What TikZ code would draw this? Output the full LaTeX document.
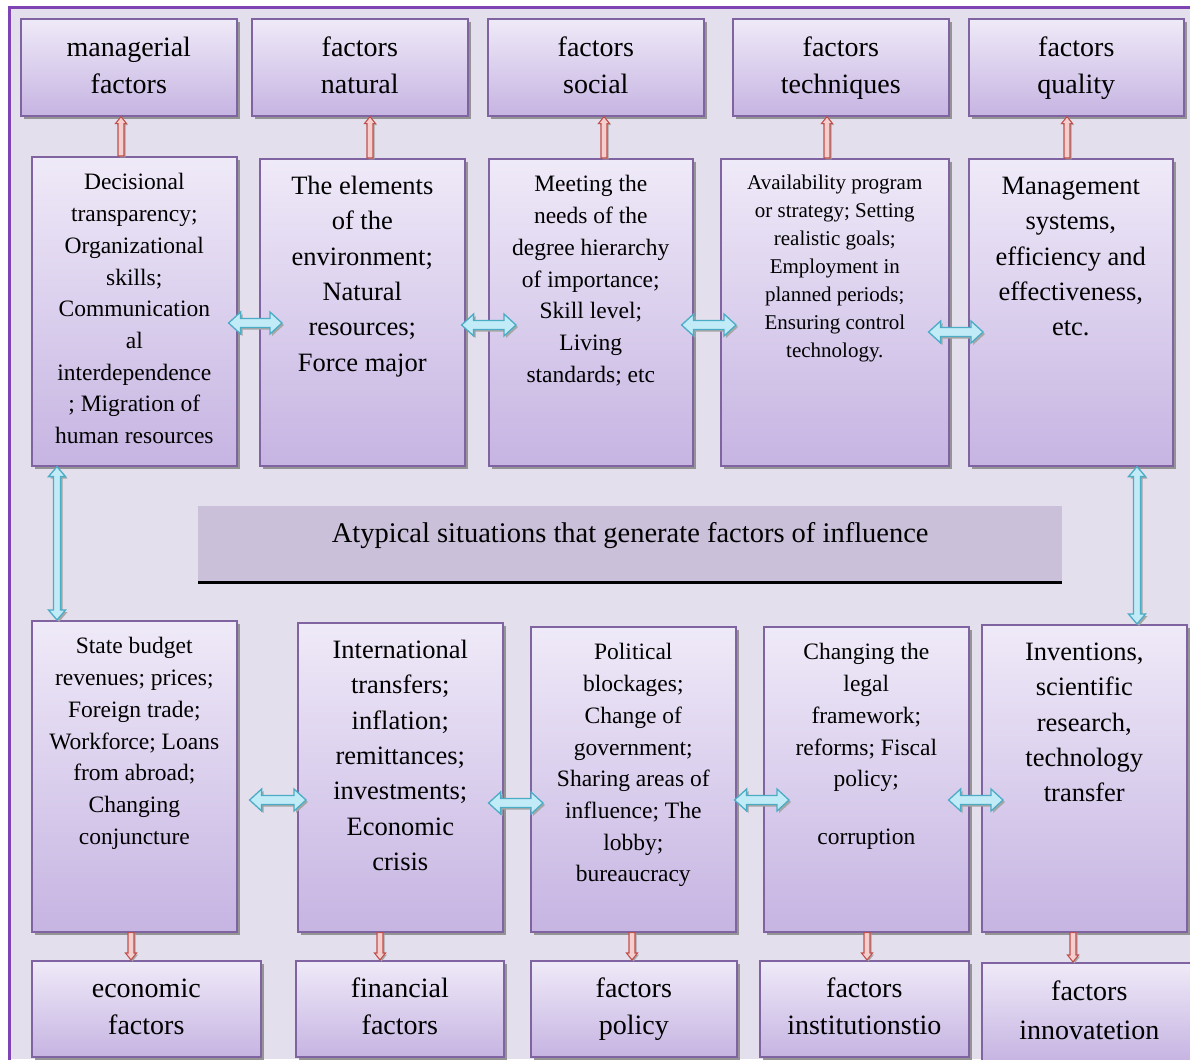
\documentclass[tikz,border=0pt]{standalone}
\usepackage{fontspec}
\setmainfont{Liberation Serif}
\usetikzlibrary{calc,shadows}
\definecolor{bgc}{HTML}{E4DFEC}
\definecolor{framec}{HTML}{7E44B4}
\definecolor{boxb}{HTML}{8064A2}
\definecolor{boxt}{HTML}{EFEAF8}
\definecolor{boxbt}{HTML}{C6B4E2}
\definecolor{bannerc}{HTML}{CAC0DA}
\definecolor{cyb}{HTML}{4BACC6}
\definecolor{cyf}{HTML}{C2EBF8}
\definecolor{rdb}{HTML}{C0504D}
\definecolor{rdf}{HTML}{F5CFCE}

\newcommand\setarr[3]{\def\ahl{#1}\def\ahw{#2}\def\asw{#3}}
% horizontal double block arrow
\newcommand\hdarrow[3]{%
  \path[#1] let \p1=#2, \p2=#3 in
  (\x1,\y1) -- ({\x1+\ahl},{\y1+\ahw}) -- ({\x1+\ahl},{\y1+\asw}) -- ({\x2-\ahl},{\y1+\asw})
  -- ({\x2-\ahl},{\y1+\ahw}) -- (\x2,\y1) -- ({\x2-\ahl},{\y1-\ahw}) -- ({\x2-\ahl},{\y1-\asw})
  -- ({\x1+\ahl},{\y1-\asw}) -- ({\x1+\ahl},{\y1-\ahw}) -- cycle;}
% vertical double block arrow (first point above second)
\newcommand\vdarrow[3]{%
  \path[#1] let \p1=#2, \p2=#3 in
  (\x1,\y1) -- ({\x1+\ahw},{\y1-\ahl}) -- ({\x1+\asw},{\y1-\ahl}) -- ({\x1+\asw},{\y2+\ahl})
  -- ({\x1+\ahw},{\y2+\ahl}) -- (\x1,\y2) -- ({\x1-\ahw},{\y2+\ahl}) -- ({\x1-\asw},{\y2+\ahl})
  -- ({\x1-\asw},{\y1-\ahl}) -- ({\x1-\ahw},{\y1-\ahl}) -- cycle;}
% vertical single block arrow, tail #2, tip #3
\newcommand\vsarrow[3]{%
  \path[#1] let \p1=#2, \p2=#3, \n1={sign(\y2-\y1)} in
  ({\x1-\asw},\y1) -- ({\x1-\asw},{\y2-(\n1)*\ahl}) -- ({\x1-\ahw},{\y2-(\n1)*\ahl}) -- (\x1,\y2)
  -- ({\x1+\ahw},{\y2-(\n1)*\ahl}) -- ({\x1+\asw},{\y2-(\n1)*\ahl}) -- ({\x1+\asw},\y1) -- cycle;}
\newcommand\bxt[3]{\parbox[c][#2pt][t]{#1pt}{\centering\vspace*{11pt}\strut #3}}
\newcommand\twol[2]{\strut #1\\#2\strut}

\tikzset{
  shbox/.style={draw=boxb, line width=1.6pt, top color=boxt, bottom color=boxbt,
    inner sep=0pt, anchor=north west,
    drop shadow={shadow xshift=3pt, shadow yshift=-3pt, fill=black!42, opacity=1}},
  lab/.style={shbox, align=center, font=\fontsize{28}{37.5}\selectfont},
  smalltxt/.style={font=\fontsize{23.5}{31.7}\selectfont},
  bigtxt/.style={font=\fontsize{26.5}{35.3}\selectfont},
  tinytxt/.style={font=\fontsize{21}{28}\selectfont},
  redarr/.style={draw=rdb, fill=rdf, line width=1.1pt,
    drop shadow={shadow xshift=1.5pt, shadow yshift=-1.5pt, fill=black!35, opacity=1}},
  cyarr/.style={draw=cyb, fill=cyf, line width=1.3pt,
    drop shadow={shadow xshift=2pt, shadow yshift=-2pt, fill=black!35, opacity=1}},
}

\begin{document}
\begin{tikzpicture}[x=1pt,y=-1pt]
\useasboundingbox (0,0) rectangle (1190,1059);
\fill[white] (0,0) rectangle (1190,1059);
\fill[bgc] (9,8) rectangle (1190,1059);
\draw[framec, line width=3pt] (9,1062) -- (9,8) -- (1192,8);

% top labels
\node[lab, minimum width=216pt, minimum height=97pt] (t1) at (20,18) {\twol{managerial}{factors}};
\node[lab, minimum width=216pt, minimum height=97pt] (t2) at (251,18) {\twol{factors}{natural}};
\node[lab, minimum width=216pt, minimum height=97pt] (t3) at (487,18) {\twol{factors}{social}};
\node[lab, minimum width=216pt, minimum height=97pt] (t4) at (732,18) {\twol{factors}{techniques}};
\node[lab, minimum width=215pt, minimum height=97pt] (t5) at (968,18) {\twol{factors}{quality}};

% second row
\node[shbox, smalltxt] (m1) at (31,156) {\bxt{205}{309}{Decisional\\transparency;\\Organizational\\skills;\\Communication\\al\\interdependence\\; Migration of\\human resources}};
\node[shbox, bigtxt] (m2) at (259,158) {\bxt{205}{307}{The elements\\of the\\environment;\\Natural\\resources;\\Force major}};
\node[shbox, smalltxt] (m3) at (488,158) {\bxt{204}{307}{Meeting the\\needs of the\\degree hierarchy\\of importance;\\Skill level;\\Living\\standards; etc}};
\node[shbox, tinytxt] (m4) at (720,158) {\bxt{228}{307}{Availability program\\or strategy; Setting\\realistic goals;\\Employment in\\planned periods;\\Ensuring control\\technology.}};
\node[shbox, bigtxt] (m5) at (968,158) {\bxt{204}{307}{Management\\systems,\\efficiency and\\effectiveness,\\etc.}};

% banner
\node[fill=bannerc, minimum width=864pt, minimum height=76pt, inner sep=0pt, anchor=north west] (ban) at (198,506) {};
\draw[line width=3pt] (ban.south west) -- (ban.south east);
\node[font=\fontsize{28.5}{34}\selectfont, anchor=base, inner sep=0pt] (bantext) at ($(ban.center)+(0,-2)$) {Atypical situations that generate factors of influence};

% third row
\node[shbox, smalltxt] (b1) at (31,620) {\bxt{205}{311}{State budget\\revenues; prices;\\Foreign trade;\\Workforce; Loans\\from abroad;\\Changing\\conjuncture}};
\node[shbox, bigtxt] (b2) at (297,622) {\bxt{205}{309}{International\\transfers;\\inflation;\\remittances;\\investments;\\Economic\\crisis}};
\node[shbox, smalltxt] (b3) at (530,626) {\bxt{205}{305}{Political\\blockages;\\Change of\\government;\\Sharing areas of\\influence; The\\lobby;\\bureaucracy}};
\node[shbox, smalltxt] (b4) at (763,626) {\bxt{205}{305}{Changing the\\legal\\framework;\\reforms; Fiscal\\policy;\\[26pt]corruption}};
\node[shbox, bigtxt] (b5) at (981,624) {\bxt{205}{307}{Inventions,\\scientific\\research,\\technology\\transfer}};

% bottom labels
\node[lab, minimum width=229pt, minimum height=96pt, font=\fontsize{28}{37}\selectfont] (l1) at (31,960) {\twol{economic}{factors}};
\node[lab, minimum width=208pt, minimum height=96pt, font=\fontsize{28}{37}\selectfont] (l2) at (295,960) {\twol{financial}{factors}};
\node[lab, minimum width=206pt, minimum height=96pt, font=\fontsize{28}{37}\selectfont] (l3) at (530,960) {\twol{factors}{policy}};
\node[lab, minimum width=209pt, minimum height=96pt, font=\fontsize{28}{37}\selectfont] (l4) at (759,960) {\twol{factors}{institutionstio}};
\node[lab, minimum width=215pt, minimum height=98pt, font=\fontsize{28}{39}\selectfont] (l5) at (981,962) {\twol{factors}{innovatetion}};

% red arrows up
\setarr{7pt}{5.5pt}{3pt}
\vsarrow{redarr}{(m1.north -| 121,0)}{(t1.south -| 121,0)}
\vsarrow{redarr}{(m2.north -| 370,0)}{(t2.south -| 370,0)}
\vsarrow{redarr}{(m3.north -| 604,0)}{(t3.south -| 604,0)}
\vsarrow{redarr}{(m4.north -| 827,0)}{(t4.south -| 827,0)}
\vsarrow{redarr}{(m5.north -| 1067,0)}{(t5.south -| 1067,0)}
% red arrows down
\vsarrow{redarr}{(b1.south -| 131,0)}{(l1.north -| 131,0)}
\vsarrow{redarr}{(b2.south -| 380,0)}{(l2.north -| 380,0)}
\vsarrow{redarr}{(b3.south -| 632,0)}{(l3.north -| 632,0)}
\vsarrow{redarr}{(b4.south -| 867,0)}{(l4.north -| 867,0)}
\vsarrow{redarr}{(b5.south -| 1073,0)}{(l5.north -| 1073,0)}

% cyan horizontal double arrows
\setarr{12pt}{11pt}{4.5pt}
\hdarrow{cyarr}{($(m1.east |- 0,323)+(-9,0)$)}{($(m2.west |- 0,323)+(23,0)$)}
\hdarrow{cyarr}{($(m2.east |- 0,325)+(-4,0)$)}{($(m3.west |- 0,325)+(28,0)$)}
\hdarrow{cyarr}{($(m3.east |- 0,325)+(-12,0)$)}{($(m4.west |- 0,325)+(16,0)$)}
\hdarrow{cyarr}{($(m4.east |- 0,332)+(-21,0)$)}{($(m5.west |- 0,332)+(15,0)$)}
\hdarrow{cyarr}{($(b1.east |- 0,800)+(12,0)$)}{($(b2.west |- 0,800)+(9,0)$)}
\hdarrow{cyarr}{($(b2.east |- 0,803)+(-15,0)$)}{($(b3.west |- 0,803)+(13,0)$)}
\hdarrow{cyarr}{($(b3.east |- 0,800)+(-2,0)$)}{($(b4.west |- 0,800)+(26,0)$)}
\hdarrow{cyarr}{($(b4.east |- 0,800)+(-21,0)$)}{($(b5.west |- 0,800)+(22,0)$)}

% cyan vertical double arrows
\setarr{10pt}{8.5pt}{3.5pt}
\vdarrow{cyarr}{(m1.south -| 57,0)}{(b1.north -| 57,0)}
\vdarrow{cyarr}{(m5.south -| 1137,0)}{(b5.north -| 1137,0)}
\end{tikzpicture}
\end{document}
